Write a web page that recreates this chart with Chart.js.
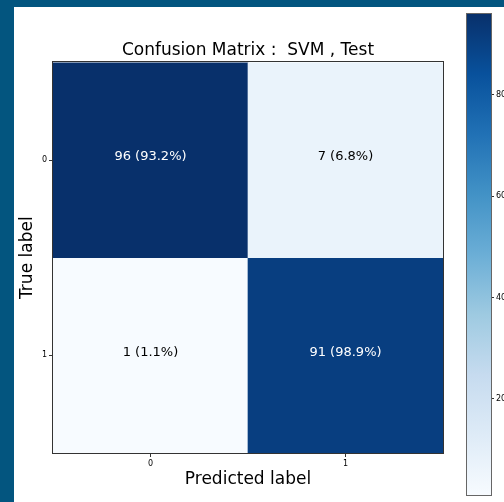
<!DOCTYPE html>
<html>
<head>
<meta charset="utf-8">
<script src="https://cdn.jsdelivr.net/npm/chart.js@4"></script>
<style>
  html, body { margin: 0; padding: 0; width: 504px; height: 502px; overflow: hidden; background: #03557f; }
  #panel { position: absolute; left: 14px; top: 7px; width: 490px; height: 495px; background: #ffffff; }
  #mainBox { position: absolute; left: 14px; top: 7px; width: 440px; height: 495px; }
  #barBox { position: absolute; left: 455px; top: 7px; width: 49px; height: 495px; }
  canvas { display: block; }
</style>
</head>
<body>
<div id="panel"></div>
<div id="mainBox"><canvas id="matrix" width="440" height="495"></canvas></div>
<div id="barBox"><canvas id="colorbar" width="49" height="495"></canvas></div>
<script>
// Confusion matrix counts and row percentages
const predictedLabels = ['0', '1'];
const trueLabels = ['0', '1'];
const row0Counts = [96, 7];
const row1Counts = [1, 91];
const row0Percents = [93.2, 6.8];
const row1Percents = [1.1, 98.9];
const colorbarTicks = [20, 40, 60, 80];
const titleText = 'Confusion Matrix :  SVM , Test';

const FONT = '"DejaVu Sans", sans-serif';

// Matplotlib "Blues" colormap anchors
const BLUES = ['#f7fbff', '#deebf7', '#c6dbef', '#9ecae1', '#6baed6', '#4292c6', '#2171b5', '#08519c', '#08306b'];

function hexToRgb(h) {
  return [parseInt(h.slice(1, 3), 16), parseInt(h.slice(3, 5), 16), parseInt(h.slice(5, 7), 16)];
}
function blues(t) {
  t = Math.max(0, Math.min(1, t));
  const pos = t * (BLUES.length - 1);
  const i = Math.min(BLUES.length - 2, Math.floor(pos));
  const f = pos - i;
  const a = hexToRgb(BLUES[i]), b = hexToRgb(BLUES[i + 1]);
  const c = a.map((v, k) => Math.round(v + (b[k] - v) * f));
  return `rgb(${c[0]},${c[1]},${c[2]})`;
}

const rows = [
  { counts: row0Counts, percents: row0Percents },
  { counts: row1Counts, percents: row1Percents }
];
const allCounts = row0Counts.concat(row1Counts);
const vmin = Math.min(...allCounts);
const vmax = Math.max(...allCounts);
const textThreshold = vmax / 2;

const norm = v => (v - vmin) / (vmax - vmin);

// Each true-label row is a floating bar spanning its band on the y scale
const datasets = rows.map((row, i) => ({
  label: 'True ' + trueLabels[i],
  data: row.counts.map(() => [i - 0.5, i + 0.5]),
  counts: row.counts,
  percents: row.percents,
  backgroundColor: row.counts.map(v => blues(norm(v))),
  borderWidth: 0,
  grouped: false,
  barPercentage: 1,
  categoryPercentage: 1
}));

// Frame around the plot area (axes spines)
const frame = {
  id: 'frame',
  afterDraw(chart, args, opts) {
    const { ctx, chartArea: a } = chart;
    ctx.save();
    ctx.strokeStyle = opts.color || '#333';
    ctx.lineWidth = 1;
    ctx.strokeRect(Math.round(a.left) - 0.5, Math.round(a.top) - 0.5,
                   Math.round(a.right - a.left) + 1, Math.round(a.bottom - a.top) + 1);
    ctx.restore();
  }
};

// Count and percentage written in each cell
const cellText = {
  id: 'cellText',
  afterDatasetsDraw(chart) {
    const ctx = chart.ctx;
    ctx.save();
    ctx.font = '13px ' + FONT;
    ctx.textAlign = 'center';
    ctx.textBaseline = 'middle';
    chart.data.datasets.forEach((ds, i) => {
      chart.getDatasetMeta(i).data.forEach((bar, j) => {
        const { x, y } = bar.getCenterPoint();
        const v = ds.counts[j];
        ctx.fillStyle = v > textThreshold ? '#ffffff' : '#000000';
        ctx.fillText(`${v} (${ds.percents[j].toFixed(1)}%)`, x, y - 3);
      });
    });
    ctx.restore();
  }
};

Chart.defaults.font.family = FONT;
Chart.defaults.color = '#000';

new Chart(document.getElementById('matrix'), {
  type: 'bar',
  data: { labels: predictedLabels, datasets },
  options: {
    responsive: false,
    animation: false,
    events: [],
    devicePixelRatio: 1,
    layout: { padding: { left: 0, right: 11, top: 0, bottom: 0 } },
    plugins: {
      legend: { display: false },
      tooltip: { enabled: false },
      title: {
        display: true,
        text: titleText,
        fullSize: false,
        color: '#000',
        font: { family: FONT, size: 17, weight: 'normal' },
        padding: { top: 33, bottom: 2 }
      },
      frame: { color: '#333' }
    },
    scales: {
      x: {
        type: 'category',
        offset: true,
        grid: { display: true, offset: false, drawOnChartArea: false, drawTicks: true, tickLength: 4, color: '#333' },
        border: { display: false },
        ticks: { font: { size: 8 }, color: '#000', padding: 2, maxRotation: 0 },
        title: {
          display: true,
          text: 'Predicted label',
          color: '#000',
          font: { family: FONT, size: 17 },
          padding: { top: 0, bottom: 12 }
        },
        afterFit(scale) { scale.height = 49; }
      },
      y: {
        type: 'linear',
        min: -0.5,
        max: 1.5,
        reverse: true,
        grid: { display: true, drawOnChartArea: false, drawTicks: true, tickLength: 4, color: '#333' },
        border: { display: false },
        ticks: {
          font: { size: 8 },
          color: '#000',
          padding: 2,
          callback: v => trueLabels[v]
        },
        afterBuildTicks(scale) { scale.ticks = trueLabels.map((_, i) => ({ value: i })); },
        title: {
          display: true,
          text: 'True label',
          color: '#000',
          font: { family: FONT, size: 17 },
          padding: { top: 3, bottom: 0 }
        },
        afterFit(scale) { scale.width = 39; }
      }
    }
  },
  plugins: [cellText, frame]
});

// Colorbar: a single floating bar from vmin to vmax filled with the colormap
new Chart(document.getElementById('colorbar'), {
  type: 'bar',
  data: {
    labels: [''],
    datasets: [{
      data: [[vmin, vmax]],
      borderWidth: 0,
      barPercentage: 1,
      categoryPercentage: 1,
      backgroundColor(ctx) {
        const chart = ctx.chart;
        const ys = chart.scales.y;
        if (!ys || !chart.chartArea) return BLUES[0];
        const g = chart.ctx.createLinearGradient(0, ys.getPixelForValue(vmin), 0, ys.getPixelForValue(vmax));
        BLUES.forEach((c, k) => g.addColorStop(k / (BLUES.length - 1), c));
        return g;
      }
    }]
  },
  options: {
    responsive: false,
    animation: false,
    events: [],
    devicePixelRatio: 1,
    layout: { padding: { left: 12, right: 0, top: 6, bottom: 2 } },
    plugins: {
      legend: { display: false },
      tooltip: { enabled: false },
      title: { display: false },
      frame: { color: '#666' }
    },
    scales: {
      x: { display: false, offset: true },
      y: {
        type: 'linear',
        position: 'right',
        min: vmin,
        max: vmax,
        grid: { display: true, drawOnChartArea: false, drawTicks: true, tickLength: 3, color: '#333' },
        border: { display: false },
        ticks: { font: { size: 8 }, color: '#000', padding: 2 },
        afterBuildTicks(scale) { scale.ticks = colorbarTicks.map(v => ({ value: v })); },
        afterFit(scale) { scale.width = 13; }
      }
    }
  },
  plugins: [frame]
});
</script>
</body>
</html>
